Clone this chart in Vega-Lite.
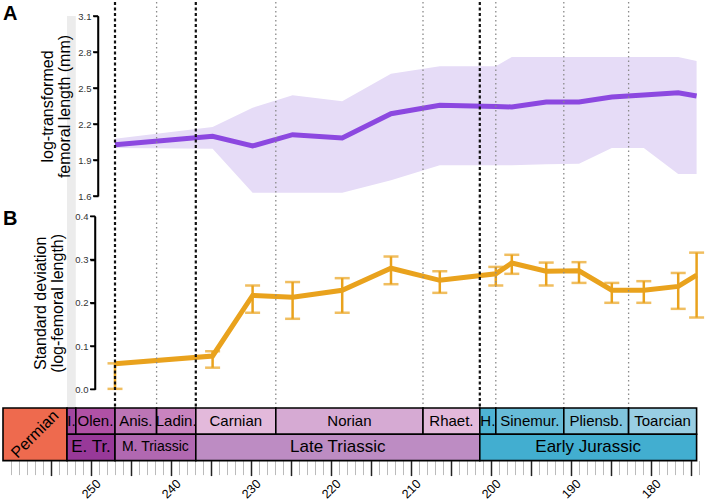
{
  "$schema": "https://vega.github.io/schema/vega-lite/v6.json",
  "padding": 0,
  "spacing": 0,
  "bounds": "flush",
  "config": {"font": "Liberation Sans", "view": {"stroke": null}, "axis": {"grid": false}},
  "datasets": {
    "bins": [
      {"age": 247.0, "mean": 2.028, "mean_lo": 2.000, "mean_hi": 2.078, "sd": 0.059, "sd_lo": 0.001, "sd_hi": 0.060},
      {"age": 234.8, "mean": 2.097, "mean_lo": 1.994, "mean_hi": 2.175, "sd": 0.077, "sd_lo": 0.050, "sd_hi": 0.088},
      {"age": 229.8, "mean": 2.017, "mean_lo": 1.628, "mean_hi": 2.336, "sd": 0.217, "sd_lo": 0.177, "sd_hi": 0.240},
      {"age": 224.8, "mean": 2.111, "mean_lo": 1.628, "mean_hi": 2.439, "sd": 0.213, "sd_lo": 0.163, "sd_hi": 0.248},
      {"age": 218.6, "mean": 2.083, "mean_lo": 1.628, "mean_hi": 2.389, "sd": 0.229, "sd_lo": 0.177, "sd_hi": 0.257},
      {"age": 212.5, "mean": 2.286, "mean_lo": 1.731, "mean_hi": 2.619, "sd": 0.280, "sd_lo": 0.243, "sd_hi": 0.307},
      {"age": 206.4, "mean": 2.356, "mean_lo": 1.856, "mean_hi": 2.681, "sd": 0.252, "sd_lo": 0.223, "sd_hi": 0.273},
      {"age": 199.4, "mean": 2.346, "mean_lo": 1.856, "mean_hi": 2.681, "sd": 0.267, "sd_lo": 0.240, "sd_hi": 0.283},
      {"age": 197.4, "mean": 2.342, "mean_lo": 1.856, "mean_hi": 2.758, "sd": 0.292, "sd_lo": 0.267, "sd_hi": 0.311},
      {"age": 193.1, "mean": 2.383, "mean_lo": 1.864, "mean_hi": 2.758, "sd": 0.273, "sd_lo": 0.240, "sd_hi": 0.293},
      {"age": 189.0, "mean": 2.383, "mean_lo": 1.869, "mean_hi": 2.758, "sd": 0.274, "sd_lo": 0.246, "sd_hi": 0.294},
      {"age": 184.9, "mean": 2.425, "mean_lo": 2.000, "mean_hi": 2.758, "sd": 0.229, "sd_lo": 0.200, "sd_hi": 0.246},
      {"age": 180.9, "mean": 2.442, "mean_lo": 2.000, "mean_hi": 2.758, "sd": 0.229, "sd_lo": 0.200, "sd_hi": 0.250},
      {"age": 176.6, "mean": 2.461, "mean_lo": 1.783, "mean_hi": 2.758, "sd": 0.238, "sd_lo": 0.186, "sd_hi": 0.269},
      {"age": 174.3, "mean": 2.433, "mean_lo": 1.783, "mean_hi": 2.725, "sd": 0.264, "sd_lo": 0.166, "sd_hi": 0.316}
    ],
    "ticksA": [{"v": 1.6}, {"v": 1.9}, {"v": 2.2}, {"v": 2.5}, {"v": 2.8}, {"v": 3.1}],
    "ticksB": [{"v": 0}, {"v": 0.1}, {"v": 0.2}, {"v": 0.3}, {"v": 0.4}],
    "bounds": [
      {"age": 247.0, "kind": "series"},
      {"age": 236.9, "kind": "series"},
      {"age": 201.4, "kind": "series"},
      {"age": 241.8, "kind": "stage"},
      {"age": 226.9, "kind": "stage"},
      {"age": 208.5, "kind": "stage"},
      {"age": 199.4, "kind": "stage"},
      {"age": 190.9, "kind": "stage"},
      {"age": 182.8, "kind": "stage"}
    ],
    "stages": [
      {"label": "Permian", "level": "system", "start": 261.0, "end": 253.0, "top": 0, "bot": 2},
      {"label": "I.", "level": "stage", "start": 253.0, "end": 251.9, "top": 0, "bot": 1},
      {"label": "Olen.", "level": "stage", "start": 251.9, "end": 247.0, "top": 0, "bot": 1},
      {"label": "Anis.", "level": "stage", "start": 247.0, "end": 241.8, "top": 0, "bot": 1},
      {"label": "Ladin.", "level": "stage", "start": 241.8, "end": 236.9, "top": 0, "bot": 1},
      {"label": "Carnian", "level": "stage", "start": 236.9, "end": 226.9, "top": 0, "bot": 1},
      {"label": "Norian", "level": "stage", "start": 226.9, "end": 208.5, "top": 0, "bot": 1},
      {"label": "Rhaet.", "level": "stage", "start": 208.5, "end": 201.4, "top": 0, "bot": 1},
      {"label": "H.", "level": "stage", "start": 201.4, "end": 199.4, "top": 0, "bot": 1},
      {"label": "Sinemur.", "level": "stage", "start": 199.4, "end": 190.9, "top": 0, "bot": 1},
      {"label": "Pliensb.", "level": "stage", "start": 190.9, "end": 182.8, "top": 0, "bot": 1},
      {"label": "Toarcian", "level": "stage", "start": 182.8, "end": 174.3, "top": 0, "bot": 1},
      {"label": "E. Tr.", "level": "series", "start": 253.0, "end": 247.0, "top": 1, "bot": 2},
      {"label": "M. Triassic", "level": "series", "start": 247.0, "end": 236.9, "top": 1, "bot": 2},
      {"label": "Late Triassic", "level": "series", "start": 236.9, "end": 201.4, "top": 1, "bot": 2},
      {"label": "Early Jurassic", "level": "series", "start": 201.4, "end": 174.3, "top": 1, "bot": 2}
    ],
    "panels": [
      {"panel": "A"}
    ],
    "panelsB": [
      {"panel": "B"}
    ]
  },
  "vconcat": [
    {
      "width": 706,
      "height": 406,
      "layer": [
        {
          "data": {"name": "stages"},
          "transform": [{"filter": "datum.label === 'I.'"}],
          "mark": {"type": "rect", "color": "#ececec"},
          "encoding": {
            "x": {"field": "start", "type": "quantitative", "scale": {"domain": [173.125, 261.375], "reverse": true, "nice": false, "zero": false}, "axis": null},
            "x2": {"field": "end"},
            "y": {"datum": 3.1, "type": "quantitative", "scale": {"domain": [1.6, 3.1], "range": [194, 14], "nice": false, "zero": false}, "axis": null},
            "y2": {"datum": -0.16}
          }
        },
        {
          "data": {"name": "bins"},
          "mark": {"type": "area", "color": "#e6dcf7"},
          "encoding": {
            "x": {"field": "age", "type": "quantitative"},
            "y": {"field": "mean_lo", "type": "quantitative", "scale": {"domain": [1.6, 3.1], "range": [194, 14], "nice": false, "zero": false}, "axis": null},
            "y2": {"field": "mean_hi"}
          }
        },
        {
          "data": {"name": "bins"},
          "mark": {"type": "line", "color": "#8c48e0", "strokeWidth": 5},
          "encoding": {
            "x": {"field": "age", "type": "quantitative"},
            "y": {"field": "mean", "type": "quantitative", "scale": {"domain": [1.6, 3.1], "range": [194, 14], "nice": false, "zero": false},
              "axis": {"orient": "left", "offset": -98, "zindex": 2, "values": [1.6, 1.9, 2.2, 2.5, 2.8, 3.1], "format": ".1f",
                "title": ["log-transformed", "femoral length (mm)"], "titleFontSize": 16, "titleFontWeight": "normal",
                "titleColor": "black", "titlePadding": 5, "titleLineHeight": 17,
                "labelFontSize": 9.5, "labelColor": "#333", "labelPadding": 2,
                "tickSize": 5, "tickWidth": 1.5, "tickColor": "black", "domainColor": "black", "domainWidth": 1.5}}
          }
        },
        {
          "data": {"name": "ticksA"},
          "mark": {"type": "rule", "color": "black", "strokeWidth": 1.5},
          "encoding": {
            "x": {"datum": 249.75, "type": "quantitative"},
            "x2": {"datum": 249.125},
            "y": {"field": "v", "type": "quantitative", "scale": {"domain": [1.6, 3.1], "range": [194, 14], "nice": false, "zero": false}, "axis": null}
          }
        },
        {
          "data": {"name": "panels"},
          "mark": {"type": "rule", "color": "black", "strokeWidth": 1.5},
          "encoding": {
            "x": {"datum": 249.125, "type": "quantitative"},
            "y": {"datum": 1.6, "type": "quantitative", "scale": {"domain": [1.6, 3.1], "range": [194, 14], "nice": false, "zero": false}, "axis": null},
            "y2": {"datum": 3.1}
          }
        },
        {
          "data": {"name": "panels"},
          "mark": {"type": "text", "fontSize": 20, "fontWeight": "bold", "align": "left", "baseline": "alphabetic", "color": "black"},
          "encoding": {
            "x": {"datum": 261.0, "type": "quantitative"},
            "y": {"datum": 3.067, "type": "quantitative", "scale": {"domain": [1.6, 3.1], "range": [194, 14], "nice": false, "zero": false}, "axis": null},
            "text": {"field": "panel"}
          }
        },
        {
          "data": {"name": "bins"},
          "mark": {"type": "rule", "color": "#e9a21d", "strokeWidth": 2.5},
          "encoding": {
            "x": {"field": "age", "type": "quantitative"},
            "y": {"field": "sd_lo", "type": "quantitative", "scale": {"domain": [0, 0.4], "range": [387.3, 214.3], "nice": false, "zero": false}, "axis": null},
            "y2": {"field": "sd_hi"}
          }
        },
        {
          "data": {"name": "bins"},
          "mark": {"type": "tick", "orient": "horizontal", "color": "#e9a21d", "size": 15, "thickness": 2.5},
          "encoding": {
            "x": {"field": "age", "type": "quantitative"},
            "y": {"field": "sd_lo", "type": "quantitative", "scale": {"domain": [0, 0.4], "range": [387.3, 214.3], "nice": false, "zero": false}, "axis": null}
          }
        },
        {
          "data": {"name": "bins"},
          "mark": {"type": "tick", "orient": "horizontal", "color": "#e9a21d", "size": 15, "thickness": 2.5},
          "encoding": {
            "x": {"field": "age", "type": "quantitative"},
            "y": {"field": "sd_hi", "type": "quantitative", "scale": {"domain": [0, 0.4], "range": [387.3, 214.3], "nice": false, "zero": false}, "axis": null}
          }
        },
        {
          "data": {"name": "bins"},
          "mark": {"type": "line", "color": "#e9a21d", "strokeWidth": 5},
          "encoding": {
            "x": {"field": "age", "type": "quantitative"},
            "y": {"field": "sd", "type": "quantitative", "scale": {"domain": [0, 0.4], "range": [387.3, 214.3], "nice": false, "zero": false},
              "axis": {"orient": "left", "offset": -95, "zindex": 2, "values": [0, 0.1, 0.2, 0.3, 0.4], "format": ".1f",
                "title": ["Standard deviation", "(log-femoral length)"], "titleFontSize": 16, "titleFontWeight": "normal",
                "titleColor": "black", "titlePadding": 9, "titleLineHeight": 17,
                "labelFontSize": 9.5, "labelColor": "#333", "labelPadding": 2,
                "tickSize": 5, "tickWidth": 1.5, "tickColor": "black", "domainColor": "black", "domainWidth": 1.5}}
          }
        },
        {
          "data": {"name": "ticksB"},
          "mark": {"type": "rule", "color": "black", "strokeWidth": 1.5},
          "encoding": {
            "x": {"datum": 250.125, "type": "quantitative"},
            "x2": {"datum": 249.5},
            "y": {"field": "v", "type": "quantitative", "scale": {"domain": [0, 0.4], "range": [387.3, 214.3], "nice": false, "zero": false}, "axis": null}
          }
        },
        {
          "data": {"name": "panelsB"},
          "mark": {"type": "rule", "color": "black", "strokeWidth": 1.5},
          "encoding": {
            "x": {"datum": 249.5, "type": "quantitative"},
            "y": {"datum": 0, "type": "quantitative", "scale": {"domain": [0, 0.4], "range": [387.3, 214.3], "nice": false, "zero": false}, "axis": null},
            "y2": {"datum": 0.4}
          }
        },
        {
          "data": {"name": "panelsB"},
          "mark": {"type": "text", "fontSize": 20, "fontWeight": "bold", "align": "left", "baseline": "alphabetic", "color": "black"},
          "encoding": {
            "x": {"datum": 261.0, "type": "quantitative"},
            "y": {"datum": 0.38, "type": "quantitative", "scale": {"domain": [0, 0.4], "range": [387.3, 214.3], "nice": false, "zero": false}, "axis": null},
            "text": {"field": "panel"}
          }
        },
        {
          "data": {"name": "bounds"},
          "transform": [{"filter": "datum.kind === 'stage'"}],
          "mark": {"type": "rule", "color": "#8a8a8a", "strokeWidth": 1.3, "strokeDash": [1.5, 3]},
          "encoding": {"x": {"field": "age", "type": "quantitative"}}
        },
        {
          "data": {"name": "bounds"},
          "transform": [{"filter": "datum.kind === 'series'"}],
          "mark": {"type": "rule", "color": "#111", "strokeWidth": 2.2, "strokeDash": [3, 2.5]},
          "encoding": {"x": {"field": "age", "type": "quantitative"}}
        }
      ],
      "resolve": {"scale": {"y": "independent"}, "axis": {"y": "independent"}}
    },
    {
      "width": 706,
      "height": 52.6,
      "data": {"name": "stages"},
      "layer": [
        {
          "mark": {"type": "rect", "stroke": "black", "strokeWidth": 1.6},
          "encoding": {
            "x": {"field": "start", "type": "quantitative",
              "scale": {"domain": [173.125, 261.375], "reverse": true, "nice": false, "zero": false},
              "axis": {"orient": "bottom", "values": [174, 175, 176, 177, 178, 179, 180, 181, 182, 183, 184, 185, 186, 187, 188, 189, 190, 191, 192, 193, 194, 195, 196, 197, 198, 199, 200, 201, 202, 203, 204, 205, 206, 207, 208, 209, 210, 211, 212, 213, 214, 215, 216, 217, 218, 219, 220, 221, 222, 223, 224, 225, 226, 227, 228, 229, 230, 231, 232, 233, 234, 235, 236, 237, 238, 239, 240, 241, 242, 243, 244, 245, 246, 247, 248, 249, 250, 251, 252, 253, 254, 255, 256, 257, 258, 259, 260],
                "labels": false, "domain": false, "title": null, "tickColor": "#bbbbbb", "tickWidth": 1, "tickSize": 14}},
            "x2": {"field": "end"},
            "y": {"field": "top", "type": "quantitative", "scale": {"domain": [0, 2], "reverse": true, "nice": false, "zero": false}, "axis": null},
            "y2": {"field": "bot"},
            "color": {"field": "label", "type": "nominal", "legend": null,
              "scale": {
                "domain": ["Permian", "I.", "Olen.", "Anis.", "Ladin.", "Carnian", "Norian", "Rhaet.", "H.", "Sinemur.", "Pliensb.", "Toarcian", "E. Tr.", "M. Triassic", "Late Triassic", "Early Jurassic"],
                "range": ["#ee6a4e", "#a4469f", "#b051a5", "#bc75b5", "#c983bf", "#e3b9db", "#d6aad3", "#e3b9db", "#4eb3d3", "#67bcd8", "#80c5dd", "#99cee3", "#983999", "#b168b1", "#bd8cc3", "#42aed0"]}}
          }
        },
        {
          "transform": [{"filter": "datum.level === 'stage'"}, {"calculate": "(datum.start + datum.end) / 2", "as": "mid"}],
          "mark": {"type": "text", "fontSize": 15, "color": "black"},
          "encoding": {
            "x": {"field": "mid", "type": "quantitative",
              "axis": {"orient": "bottom", "values": [175, 180, 185, 190, 195, 200, 205, 210, 215, 220, 225, 230, 235, 240, 245, 250, 255],
                "labelExpr": "datum.value % 10 === 0 ? datum.label : ''", "labelAngle": -45, "labelAlign": "center", "labelBaseline": "middle",
                "labelPadding": 13, "labelFontSize": 12.5, "labelColor": "black", "labelOverlap": false, "labelFlush": false, "labelBound": false,
                "domain": false, "title": null, "tickColor": "#222", "tickWidth": 1.5, "tickSize": 15}},
            "y": {"datum": 0.5, "type": "quantitative"},
            "text": {"field": "label"}
          }
        },
        {
          "transform": [{"filter": "datum.level === 'series' && datum.label !== 'M. Triassic'"}, {"calculate": "(datum.start + datum.end) / 2", "as": "mid"}],
          "mark": {"type": "text", "fontSize": 17, "color": "black"},
          "encoding": {
            "x": {"field": "mid", "type": "quantitative", "axis": null},
            "y": {"datum": 1.5, "type": "quantitative"},
            "text": {"field": "label"}
          }
        },
        {
          "transform": [{"filter": "datum.label === 'M. Triassic'"}, {"calculate": "(datum.start + datum.end) / 2", "as": "mid"}],
          "mark": {"type": "text", "fontSize": 14, "color": "black"},
          "encoding": {
            "x": {"field": "mid", "type": "quantitative", "axis": null},
            "y": {"datum": 1.5, "type": "quantitative"},
            "text": {"field": "label"}
          }
        },
        {
          "transform": [{"filter": "datum.level === 'system'"}, {"calculate": "(datum.start + datum.end) / 2", "as": "mid"}],
          "mark": {"type": "text", "fontSize": 16, "angle": -45, "color": "black"},
          "encoding": {
            "x": {"field": "mid", "type": "quantitative", "axis": null},
            "y": {"datum": 1, "type": "quantitative"},
            "text": {"field": "label"}
          }
        }
      ],
      "resolve": {"axis": {"x": "independent"}}
    }
  ]
}
